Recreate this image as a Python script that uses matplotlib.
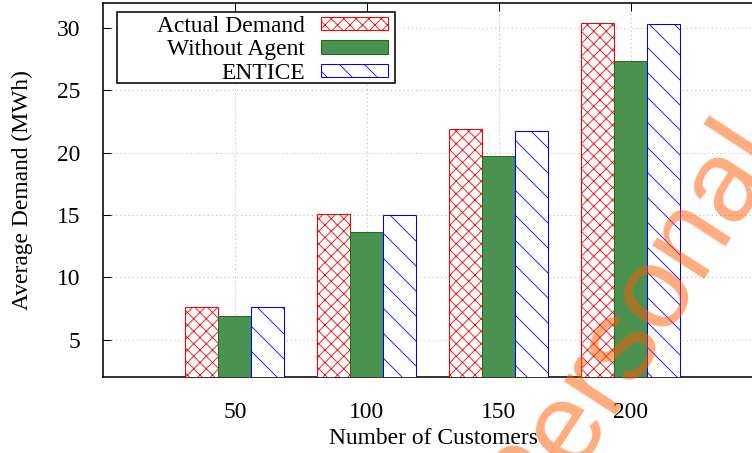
import matplotlib
matplotlib.use("Agg")
import matplotlib.pyplot as plt
from matplotlib.patches import Rectangle

customers = ["50", "100", "150", "200"]
actual_demand = [7.65, 15.08, 21.93, 30.40]
without_agent = [6.90, 13.60, 19.72, 27.36]
entice = [7.58, 14.98, 21.75, 30.32]

series_names = ["Actual Demand", "Without Agent", "ENTICE"]

# dpi 75 so that the hatch spacing comes out like the gnuplot patterns
DPI = 75
plt.rcParams["font.family"] = ["Liberation Serif", "DejaVu Serif"]
plt.rcParams["hatch.linewidth"] = 0.8
FS = 22.5

fig = plt.figure(figsize=(753 / DPI, 453 / DPI), dpi=DPI)
# right edge of the box runs past the figure, as in the reference
ax = fig.add_axes([103 / 753, 76 / 453, 660 / 753, 374 / 453])

x = list(range(len(customers)))
w = 0.25
styles = [
    dict(facecolor="white", edgecolor="#ff0000", hatch="xx"),
    dict(facecolor="#4b9150", edgecolor="#1f6f1f"),
    dict(facecolor="white", edgecolor="#0000ff", hatch="\\"),
]
for j, vals in enumerate([actual_demand, without_agent, entice]):
    pos = [i + (j - 1) * w for i in x]
    ax.bar(pos, vals, width=w, linewidth=1.0, label=series_names[j],
           zorder=3, **styles[j])

ax.set_xlim(-1, 4)
ax.set_ylim(2, 32)
ax.set_xticks(x)
ax.set_xticklabels(customers)
ax.set_yticks([5, 10, 15, 20, 25, 30])

ax.grid(True, color="#b4b4b4", linestyle=(0, (1, 3)), linewidth=1.0, zorder=0)
ax.set_axisbelow(True)

ax.tick_params(axis="both", direction="in", length=8, width=1.0,
               labelsize=FS, top=True, right=True, bottom=False)
ax.tick_params(axis="y", pad=22)
ax.tick_params(axis="x", pad=24)
for s in ax.spines.values():
    s.set_linewidth(1.5)

ax.set_ylabel("Average Demand (MWh)", fontsize=FS, va="center")
ax.yaxis.set_label_coords((22 - 103) / 660, 0.5)
ax.set_xlabel("Number of Customers", fontsize=FS, va="center")
ax.xaxis.set_label_coords(0.5, (377 - 438) / 374)

# gnuplot-like key: text right aligned, sample on the right, wide box
key_box = Rectangle((117 / 753, 1 - 83 / 453), 278 / 753, 71 / 453,
                    transform=fig.transFigure, facecolor="white",
                    edgecolor="black", linewidth=1.5, zorder=5, clip_on=False)
ax.add_patch(key_box)
leg = ax.legend(loc="upper right", bbox_to_anchor=(388 / 753, 1 - 15.5 / 453),
                bbox_transform=fig.transFigure, frameon=False, markerfirst=False,
                fontsize=FS, handlelength=2.85, handleheight=0.5,
                handletextpad=0.68, labelspacing=0.12, borderpad=0.0,
                borderaxespad=0)
leg.set_zorder(6)

# watermark
fig.text(656 / 753, 1 - 339 / 453, "Personal", rotation=57, ha="center",
         va="baseline", rotation_mode="anchor", fontsize=112,
         family=["Liberation Sans", "DejaVu Sans"], color="#ff5a00",
         alpha=0.5, zorder=10)

fig.savefig("out.png", dpi=DPI)
